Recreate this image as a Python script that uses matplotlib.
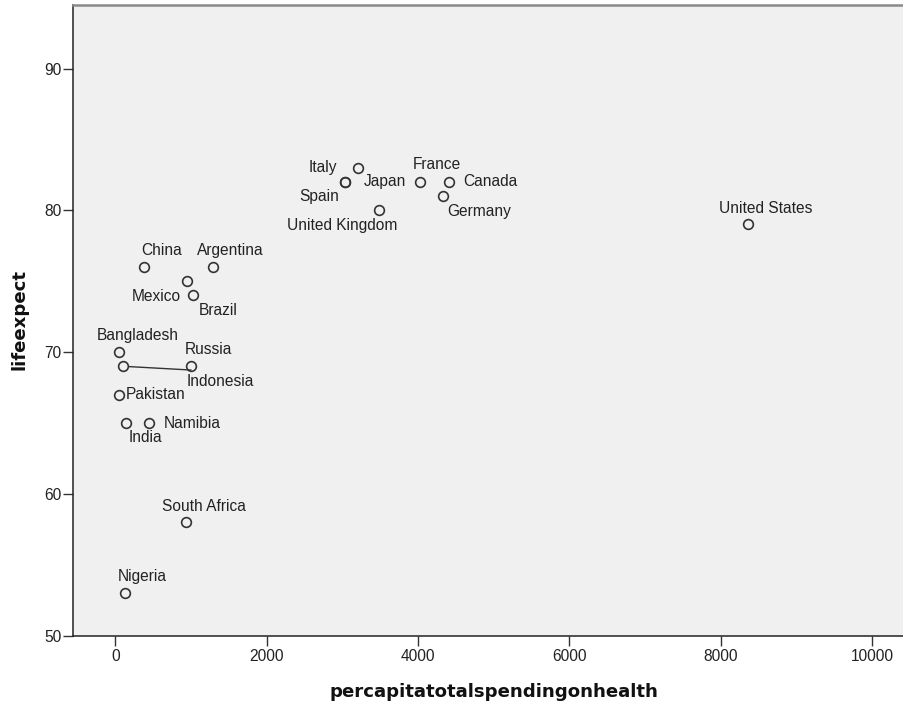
import matplotlib
matplotlib.use("Agg")
import matplotlib.pyplot as plt

# ---- data ----
countries = ["Italy", "Spain", "Japan", "France", "Canada", "Germany",
             "United Kingdom", "United States", "China", "Argentina",
             "Mexico", "Brazil", "Bangladesh", "Russia", "Indonesia",
             "Pakistan", "India", "Namibia", "South Africa", "Nigeria"]
spending = [3202, 3030, 3040, 4025, 4408, 4333,
            3483, 8362, 383, 1287,
            947, 1030, 53, 1000, 106,
            53, 137, 441, 934, 128]
lifeexpect = [83, 82, 82, 82, 82, 81,
              80, 79, 76, 76,
              75, 74, 70, 69, 69,
              67, 65, 65, 58, 53]
x_ticks = [0, 2000, 4000, 6000, 8000, 10000]
y_ticks = [50, 60, 70, 80, 90]

# ---- label placement (pixels offset, horizontal alignment) ----
label_style = {
    "Italy": (-21, 0, "right"),
    "Spain": (-6, -15, "right"),
    "Japan": (18, 0, "left"),
    "France": (17, 17, "center"),
    "Canada": (14, 0, "left"),
    "Germany": (4, -15, "left"),
    "United Kingdom": (-37, -15, "center"),
    "United States": (17, 16, "center"),
    "China": (17, 17, "center"),
    "Argentina": (18, 17, "center"),
    "Mexico": (-6, -15, "right"),
    "Brazil": (5, -15, "left"),
    "Bangladesh": (18, 17, "center"),
    "Russia": (17, 17, "center"),
    "Indonesia": (63, -15, "left"),
    "Pakistan": (6, 0, "left"),
    "India": (20, -14, "center"),
    "Namibia": (15, 0, "left"),
    "South Africa": (18, 16, "center"),
    "Nigeria": (17, 17, "center"),
}

W, H = 904, 706
fig = plt.figure(figsize=(W / 100, H / 100), dpi=100)
fig.patch.set_facecolor("white")

left_px, right_px, top_px, bottom_px = 73.3, 914.0, 4.7, 635.7
ax = fig.add_axes([left_px / W, (H - bottom_px) / H,
                   (right_px - left_px) / W, (bottom_px - top_px) / H])
ax.set_facecolor("#F0F0F0")

ax.set_xlim(-555, 10551)
ax.set_ylim(50, 94.5)

ax.plot(spending, lifeexpect, linestyle="none", marker="o",
        markersize=7.0, markerfacecolor="none", markeredgecolor="#333333",
        markeredgewidth=1.2, zorder=3)

font_lbl = dict(family=["Liberation Sans", "DejaVu Sans"], size=11.2,
                color="#222222")
for name, xv, yv in zip(countries, spending, lifeexpect):
    dx, dy, ha = label_style[name]
    if name == "Indonesia":
        ax.annotate(name, xy=(xv, yv), xytext=(dx, dy),
                    textcoords="offset pixels", ha=ha, va="center",
                    arrowprops=dict(arrowstyle="-", color="#333333", lw=1.0,
                                    relpos=(0.07, 1.25), shrinkA=0, shrinkB=4),
                    **font_lbl)
    else:
        ax.annotate(name, xy=(xv, yv), xytext=(dx, dy),
                    textcoords="offset pixels", ha=ha, va="center", **font_lbl)

ax.set_xticks(x_ticks)
ax.set_xticklabels([str(v) for v in x_ticks])
ax.set_yticks(y_ticks)
ax.set_yticklabels([str(v) for v in y_ticks])
for lab in ax.get_xticklabels() + ax.get_yticklabels():
    lab.set_family(["Liberation Sans", "DejaVu Sans"])
    lab.set_fontsize(11.2)
    lab.set_color("#222222")
ax.tick_params(axis="x", length=7.2, width=1.0, color="#333333", pad=2.6)
ax.tick_params(axis="y", length=7.2, width=1.0, color="#333333", pad=1.2)

for s in ["left", "bottom"]:
    ax.spines[s].set_color("#222222")
    ax.spines[s].set_linewidth(1.1)
ax.spines["top"].set_color("#8a8a8a")
ax.spines["top"].set_linewidth(1.8)
ax.spines["right"].set_visible(False)

fig.text(493.7 / W, (H - 697.3) / H, "percapitatotalspendingonhealth",
         ha="center", va="baseline", family="DejaVu Sans",
         fontweight="bold", fontsize=13.1, color="#111111")
fig.text(20 / W, (H - 319) / H, "lifeexpect", rotation=90,
         ha="center", va="center", family="DejaVu Sans",
         fontweight="bold", fontsize=13.1, color="#111111")

fig.savefig("out.png", dpi=100, facecolor="white")
